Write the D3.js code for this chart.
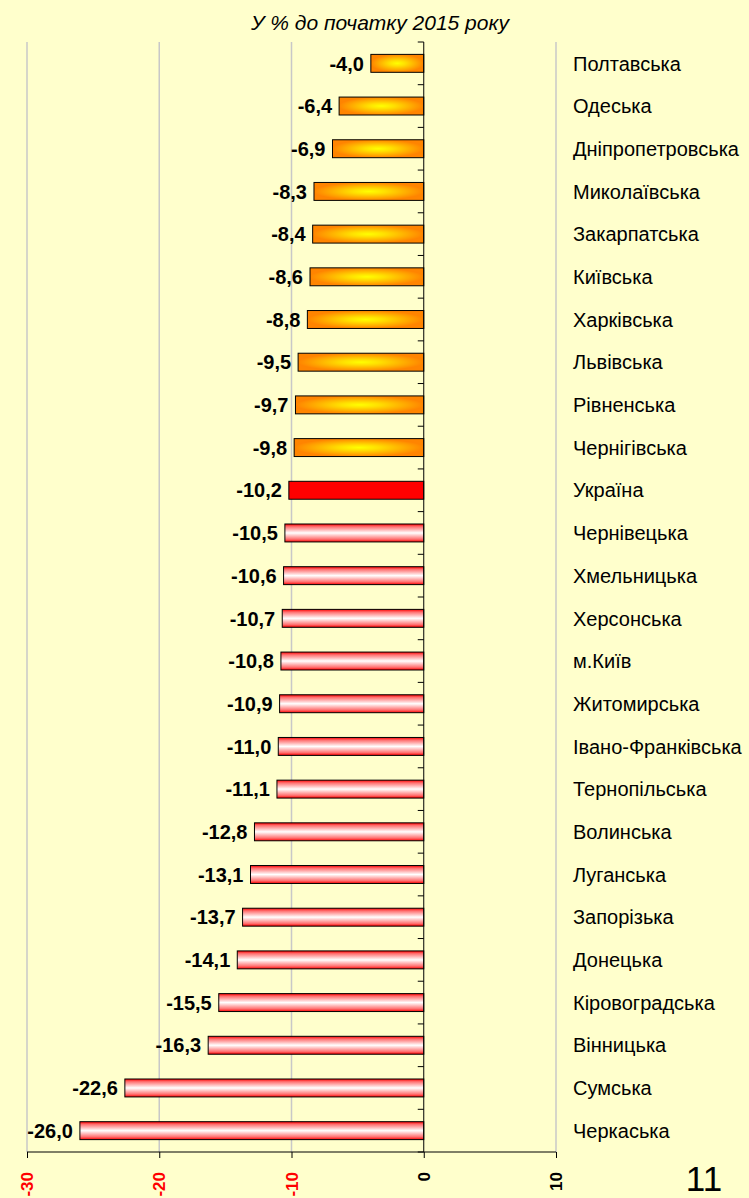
<!DOCTYPE html>
<html>
<head>
<meta charset="utf-8">
<script src="https://cdn.jsdelivr.net/npm/d3@7"></script>
<style>
  html, body { margin: 0; padding: 0; background: #FFFFCC; }
  svg { display: block; font-family: "Liberation Sans", Arial, sans-serif; }
</style>
</head>
<body>
<div id="chart"></div>
<script>
// regions, sorted as in the picture
const regions = ['Полтавська', 'Одеська', 'Дніпропетровська', 'Миколаївська', 'Закарпатська',
  'Київська', 'Харківська', 'Львівська', 'Рівненська', 'Чернігівська', 'Україна',
  'Чернівецька', 'Хмельницька', 'Херсонська', 'м.Київ', 'Житомирська', 'Івано-Франківська',
  'Тернопільська', 'Волинська', 'Луганська', 'Запорізька', 'Донецька', 'Кіровоградська',
  'Вінницька', 'Сумська', 'Черкаська'];
const changes = [-4.0, -6.4, -6.9, -8.3, -8.4, -8.6, -8.8, -9.5, -9.7, -9.8, -10.2,
  -10.5, -10.6, -10.7, -10.8, -10.9, -11.0, -11.1, -12.8, -13.1, -13.7, -14.1, -15.5,
  -16.3, -22.6, -26.0];
const xTicks = [-30, -20, -10, 0, 10];
const title = 'У % до початку 2015 року';
const pageNo = '11';

const W = 749, H = 1198;
const svg = d3.select('#chart').append('svg')
  .attr('width', W).attr('height', H);

svg.append('rect').attr('width', W).attr('height', H).attr('fill', '#FFFFCC');

const defs = svg.append('defs');
const orange = defs.append('radialGradient').attr('id', 'gOrange')
  .attr('cx', '50%').attr('cy', '50%').attr('r', '50%');
orange.append('stop').attr('offset', '0%').attr('stop-color', '#FFFF00');
orange.append('stop').attr('offset', '30%').attr('stop-color', '#FFE000');
orange.append('stop').attr('offset', '100%').attr('stop-color', '#FF8400');

const pink = defs.append('linearGradient').attr('id', 'gPink')
  .attr('x1', 0).attr('y1', 0).attr('x2', 0).attr('y2', 1);
[[0, '#FF0000'], [0.15, '#FF7070'], [0.5, '#FFFFFF'], [0.85, '#FF7070'], [1, '#FF0000']]
  .forEach(([o, c]) => pink.append('stop').attr('offset', o).attr('stop-color', c));

const plotTop = 42, plotBottom = 1152;
const x = d3.scaleLinear().domain([-30, 10]).range([27, 556]);
const y = d3.scaleBand().domain(regions).range([plotTop, plotBottom])
  .paddingInner(0.58).paddingOuter(0.29);
const step = (plotBottom - plotTop) / regions.length;

// gridlines
svg.append('g').selectAll('line')
  .data(xTicks.filter(d => d !== 0))
  .enter().append('line')
  .attr('x1', d => x(d)).attr('x2', d => x(d))
  .attr('y1', plotTop).attr('y2', plotBottom)
  .attr('stroke', '#C8C8C8').attr('stroke-width', 1.5);

// bars
svg.append('g').selectAll('rect')
  .data(regions)
  .enter().append('rect')
  .attr('x', (d, i) => x(changes[i]))
  .attr('y', d => y(d))
  .attr('width', (d, i) => x(0) - x(changes[i]))
  .attr('height', y.bandwidth())
  .attr('fill', (d, i) => d === 'Україна' ? '#FF0000' : (changes[i] > -10 ? 'url(#gOrange)' : 'url(#gPink)'))
  .attr('stroke', '#000').attr('stroke-width', 1);

// value labels
svg.append('g').selectAll('text')
  .data(regions)
  .enter().append('text')
  .attr('x', (d, i) => x(changes[i]) - 7)
  .attr('y', d => y(d) + y.bandwidth() / 2)
  .attr('dy', '0.36em')
  .attr('text-anchor', 'end')
  .style('font-size', '20px').style('font-weight', 'bold').style('fill', '#000')
  .text((d, i) => d3.format('.1f')(changes[i]).replace('.', ',').replace('−', '-'));

// category axis at zero
const yAxis = svg.append('g');
yAxis.append('line')
  .attr('x1', x(0)).attr('x2', x(0)).attr('y1', plotTop).attr('y2', plotBottom)
  .attr('stroke', '#000');
yAxis.selectAll('.ctick')
  .data(d3.range(regions.length + 1))
  .enter().append('line')
  .attr('x1', x(0) - 6).attr('x2', x(0))
  .attr('y1', i => plotTop + i * step).attr('y2', i => plotTop + i * step)
  .attr('stroke', '#000');

// category labels
svg.append('g').selectAll('text')
  .data(regions)
  .enter().append('text')
  .attr('x', 573)
  .attr('y', d => y(d) + y.bandwidth() / 2)
  .attr('dy', '0.36em')
  .style('font-size', '20px').style('fill', '#000')
  .text(d => d);

// value axis
const xAxis = svg.append('g')
  .attr('transform', `translate(0,${plotBottom})`)
  .call(d3.axisBottom(x).tickValues(xTicks).tickSize(6).tickFormat(''));
xAxis.select('.domain').attr('stroke', '#000').attr('d', `M${x(-30)},0H${x(10)}`);
xAxis.selectAll('.tick line').attr('stroke', '#000');

svg.append('g').selectAll('text')
  .data(xTicks)
  .enter().append('text')
  .attr('transform', d => `translate(${x(d)},${plotBottom + 20}) rotate(-90)`)
  .attr('dy', '0.36em')
  .attr('text-anchor', 'end')
  .style('font-size', '17px').style('font-weight', 'bold')
  .style('fill', d => d < 0 ? '#FF0000' : '#000')
  .text(d => d);

// title
svg.append('text')
  .attr('x', 380).attr('y', 30)
  .attr('text-anchor', 'middle')
  .style('font-size', '21px').style('font-style', 'italic').style('fill', '#000')
  .text(title);

svg.append('text')
  .attr('x', 704).attr('y', 1191)
  .attr('text-anchor', 'middle')
  .style('font-size', '35px').style('fill', '#000')
  .text(pageNo);
</script>
</body>
</html>
